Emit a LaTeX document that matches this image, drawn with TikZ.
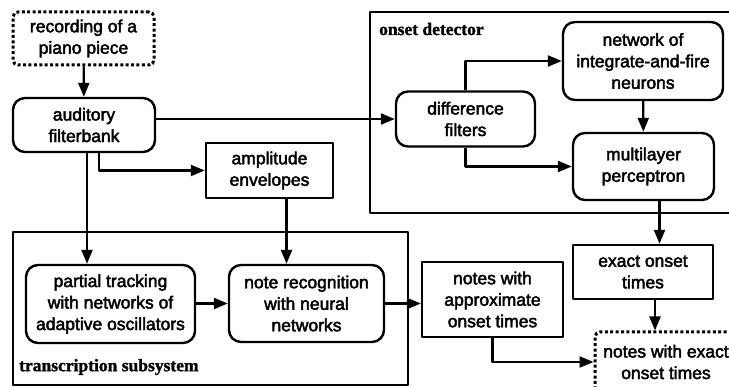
\documentclass[tikz,border=0pt]{standalone}
\usepackage{fontspec}
\usetikzlibrary{arrows.meta}
\newfontfamily\boxfont{Liberation Sans}[FakeBold=2.5]
\newfontfamily\framefont{Liberation Serif}[FakeBold=1.5]

\tikzset{
  every picture/.style={line join=round},
  blk/.style={draw, line width=2.4pt, inner sep=0pt, align=center,
    font=\boxfont\fontsize{17.5}{21.5}\selectfont},
  rbox/.style={blk, rounded corners=12pt},
  sbox/.style={blk},
  dbox/.style={blk, rounded corners=5pt, line width=3pt,
    dash pattern=on 3pt off 2.4pt},
  frame/.style={draw, line width=2.2pt},
  framelabel/.style={anchor=west, inner sep=0pt,
    font=\framefont\bfseries\fontsize{17.5}{20}\selectfont},
  link/.style={line width=2.2pt, -{Triangle[length=14pt,width=11pt]}},
}

\begin{document}
\begin{tikzpicture}[x=1pt,y=-1pt]
  \useasboundingbox (0,0) rectangle (729,387);
  \fill[white] (0,0) rectangle (729,387);
  \clip (0,0) rectangle (729,387);

  % subsystem frames
  \draw[frame] (370,12) rectangle (740,213);
  \node[framelabel] (onsetlbl) at (379,29) {onset detector};
  \draw[frame] (13,232) rectangle (408,385);
  \node[framelabel] (translbl) at (19,367) {transcription subsystem};

  % blocks
  \node[dbox, minimum width=141pt, minimum height=53pt] (rec) at (83.5,38.5)
    {recording of a\\piano piece};
  \node[rbox, minimum width=142pt, minimum height=54pt] (aud) at (84,125)
    {auditory\\filterbank};
  \node[sbox, minimum width=127pt, minimum height=55pt] (amp) at (269.5,170.5)
    {amplitude\\envelopes};
  \node[rbox, minimum width=139pt, minimum height=55pt] (diff) at (465.5,119)
    {difference\\filters};
  \node[rbox, minimum width=160pt, minimum height=78pt] (net) at (643,61)
    {network of\\integrate-and-fire\\neurons};
  \node[rbox, minimum width=141pt, minimum height=67pt] (mlp) at (643.5,166.5)
    {multilayer\\perceptron};
  \node[sbox, minimum width=140pt, minimum height=54pt] (exact) at (643,272)
    {exact onset\\times};
  \node[rbox, minimum width=169pt, minimum height=78pt] (partial) at (110.5,304)
    {partial tracking\\with networks of\\adaptive oscillators};
  \node[rbox, minimum width=155pt, minimum height=77pt] (note) at (306.5,303.5)
    {note recognition\\with neural\\networks};
  \node[sbox, minimum width=141pt, minimum height=75pt] (approx) at (492.5,299.5)
    {notes with\\approximate\\onset times};
  \node[dbox, minimum width=142pt, minimum height=60pt] (nex) at (666,362)
    {notes with exact\\onset times};

  % connectors
  \draw[link] (rec) -- (aud);
  \draw[link] (aud.east |- diff.west) -- (diff.west);
  \draw[link] ([xshift=15pt]aud.south) |- (amp.west);
  \draw[link] ([xshift=3pt]aud.south) -- ([xshift=3pt]aud.south |- partial.north);
  \draw[link] ([xshift=17pt]amp.south) -- ([xshift=17pt]amp.south |- note.north);
  \draw[link] (diff.north) |- (net.west);
  \draw[link] (diff.south) |- (mlp.west);
  \draw[link] (net) -- (mlp);
  \draw[link] ([xshift=16pt]mlp.south) -- ([xshift=16pt]mlp.south |- exact.north);
  \draw[link] ([xshift=12pt]exact.south) -- ([xshift=12pt]exact.south |- nex.north);
  \draw[link] (partial.east |- note.west) -- (note.west);
  \draw[link] (note.east) -- (note.east -| approx.west);
  \draw[link] (approx.south) |- (nex.west);
\end{tikzpicture}
\end{document}
